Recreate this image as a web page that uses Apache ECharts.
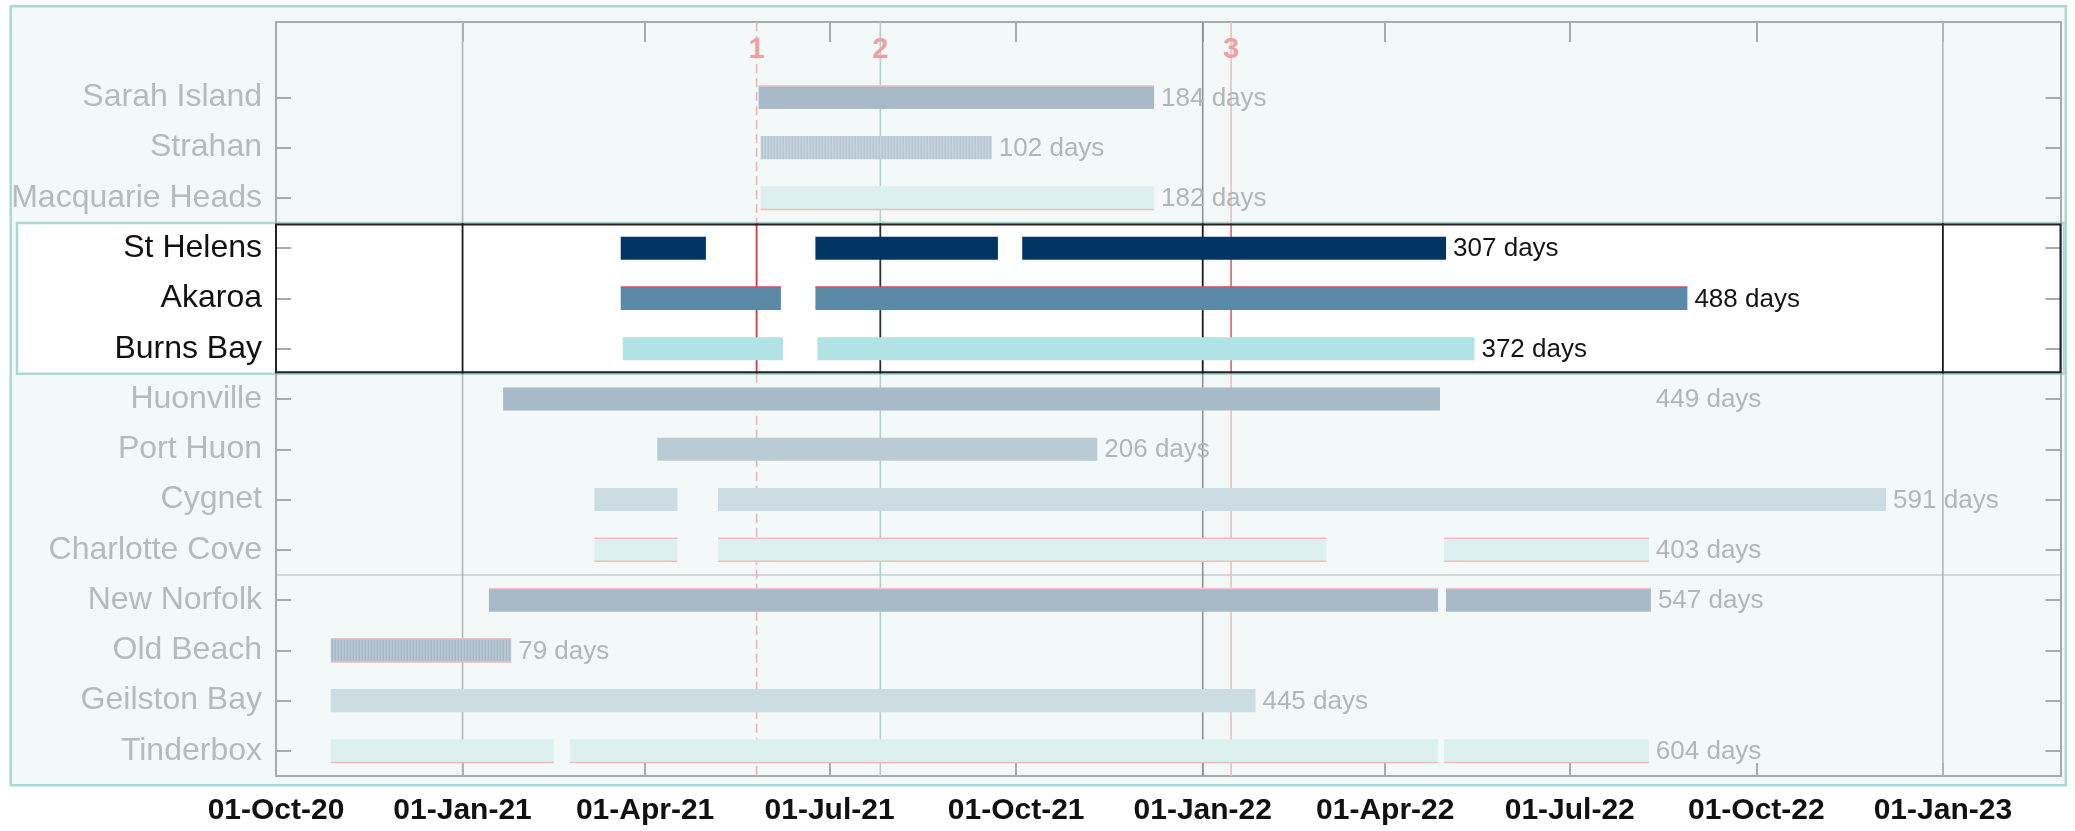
<!DOCTYPE html>
<html><head><meta charset="utf-8">
<script src="https://cdn.jsdelivr.net/npm/echarts@6/dist/echarts.min.js"></script>
<style>html,body{margin:0;padding:0;background:#fff;} #c{width:2075px;height:831px;}</style>
</head><body><div id="c"></div>
<script>
// ---------------- data ----------------
const sites = ['Sarah Island','Strahan','Macquarie Heads','St Helens','Akaroa','Burns Bay','Huonville','Port Huon','Cygnet','Charlotte Cove','New Norfolk','Old Beach','Geilston Bay','Tinderbox'];
const highlighted = ['St Helens','Akaroa','Burns Bay'];
const segments = [
  [['2021-05-27','2021-12-08']],
  [['2021-05-28','2021-09-19']],
  [['2021-05-28','2021-12-08']],
  [['2021-03-20','2021-05-01'],['2021-06-24','2021-09-22'],['2021-10-04','2022-05-01']],
  [['2021-03-20','2021-06-07'],['2021-06-24','2022-08-28']],
  [['2021-03-21','2021-06-08'],['2021-06-25','2022-05-15']],
  [['2021-01-21','2022-04-28']],
  [['2021-04-07','2021-11-10']],
  [['2021-03-07','2021-04-17'],['2021-05-07','2022-12-04']],
  [['2021-03-07','2021-04-17'],['2021-05-07','2022-03-03'],['2022-04-30','2022-08-09']],
  [['2021-01-14','2022-04-27'],['2022-05-01','2022-08-10']],
  [['2020-10-28','2021-01-25']],
  [['2020-10-28','2022-01-27']],
  [['2020-10-28','2021-02-15'],['2021-02-23','2022-04-27'],['2022-04-30','2022-08-09']]
];
const dayCounts = [184,102,182,307,488,372,449,206,591,403,547,79,445,604];
const labelAfter = [null,null,null,null,null,null,'2022-08-09',null,null,null,null,null,null,null];
const tickDates = ['2020-10-01','2021-01-01','2021-04-01','2021-07-01','2021-10-01','2022-01-01','2022-04-01','2022-07-01','2022-10-01','2023-01-01'];
const yearLines = ['2021-01-01','2022-01-01','2023-01-01'];
const markerDates = ['2021-05-26','2021-07-26','2022-01-15'];
const markerNames = ['1','2','3'];
const axisStart = '2020-10-01';
const axisEnd = '2023-02-28';
const separatorAfter = 'Charlotte Cove';

// ---------------- helpers / styles ----------------
const t = s => { const [y,m,d] = s.split('-').map(Number); return new Date(y, m-1, d).getTime(); };
const MON = ['Jan','Feb','Mar','Apr','May','Jun','Jul','Aug','Sep','Oct','Nov','Dec'];
const fmt = v => { const d = new Date(v); return String(d.getDate()).padStart(2,'0') + '-' + MON[d.getMonth()] + '-' + String(d.getFullYear()).slice(2); };
const FONT = '"Liberation Sans", Arial, Helvetica, sans-serif';
const cats = [''].concat(sites);
const catOf = name => cats.indexOf(name);

const rowStyle = {
  'Sarah Island':   {fill:'#a8b9c8', top:'#f2c8cc'},
  'Strahan':        {fill:'#c7d6de', hatch:'#adbfcb'},
  'Macquarie Heads':{fill:'#ddefef', bottom:'#f0bcbc'},
  'St Helens':      {fill:'#003463'},
  'Akaroa':         {fill:'#5b8aa6', top:'#d84c58'},
  'Burns Bay':      {fill:'#b1e2e4'},
  'Huonville':      {fill:'#a8b9c8'},
  'Port Huon':      {fill:'#bacbd5'},
  'Cygnet':         {fill:'#cbdde2'},
  'Charlotte Cove': {fill:'#ddf0f0', top:'#f0bcbc', bottom:'#f0bcbc'},
  'New Norfolk':    {fill:'#a8b9c8', top:'#f2c8cc'},
  'Old Beach':      {fill:'#b8c9d4', hatch:'#9fb3c2', top:'#f0bcbc', bottom:'#f0bcbc'},
  'Geilston Bay':   {fill:'#cbdde2'},
  'Tinderbox':      {fill:'#ddf0f0', bottom:'#f0bcbc'}
};
const lineStyles = {
  year:   [{faded:'#b2b6b6', strong:'#1a1a1a'}, {faded:'#8e9292', strong:'#1a1a1a'}, {faded:'#b2b6b6', strong:'#1a1a1a'}],
  marker: [{faded:'#f0b2b2', strong:'#e0303c', dash:[9,5]}, {faded:'#a9d3d3', strong:'#1e3434'}, {faded:'#f0bcbc', strong:'#e07272'}]
};
const GRAY = '#a6acac';

// ---------------- series data built from arrays ----------------
const barData = [];
sites.forEach((s, r) => segments[r].forEach(seg => barData.push([t(seg[0]), t(seg[1]), catOf(s), r])));
const labelData = sites.map((s, r) => {
  const end = labelAfter[r] ? t(labelAfter[r]) : Math.max(...segments[r].map(g => t(g[1])));
  return [end, catOf(s), r];
});
const lineData = yearLines.map((d, i) => [t(d), 0, i]).concat(markerDates.map((d, i) => [t(d), 1, i]));

function bandEdges(api) {
  const bh = api.size([0, 1])[1];
  const cTop = catOf(highlighted[0]), cBot = catOf(highlighted[highlighted.length-1]);
  return [api.coord([t(axisStart), cTop])[1] - bh/2, api.coord([t(axisStart), cBot])[1] + bh/2, bh];
}

const chart = echarts.init(document.getElementById('c'), null, {renderer:'canvas'});
const tickVals = tickDates.map(t);

chart.setOption({
  animation: false,
  backgroundColor: '#ffffff',
  textStyle: {fontFamily: FONT},
  graphic: [{
    type: 'rect', z: 0, left: 9.5, top: 5,
    shape: {width: 2055, height: 779},
    style: {fill: '#f3f8f8', stroke: '#a9d9d5', lineWidth: 2.5}
  }],
  grid: {left: 276, right: 14.5, top: 22, bottom: 55, outerBoundsMode: 'none'},
  xAxis: [{
    type: 'value', position: 'bottom', min: t(axisStart), max: t(axisEnd), z: 2, scale: true,
    axisLine: {show: true, lineStyle: {color: GRAY, width: 2}},
    axisTick: {show: true, inside: true, length: 13, customValues: tickVals, lineStyle: {color: GRAY, width: 2}},
    axisLabel: {customValues: tickVals, formatter: v => fmt(v), color: '#111', fontSize: 30, fontWeight: 'bold', fontFamily: FONT, margin: 20},
    splitLine: {show: false}
  }, {
    type: 'value', position: 'top', min: t(axisStart), max: t(axisEnd), z: 2, scale: true,
    axisLine: {show: true, lineStyle: {color: GRAY, width: 2}},
    axisTick: {show: true, inside: true, length: 20, customValues: tickVals, lineStyle: {color: GRAY, width: 2}},
    axisLabel: {show: false}, splitLine: {show: false}
  }],
  yAxis: [{
    type: 'category', data: cats, inverse: true, position: 'left', z: 2,
    axisLine: {show: true, lineStyle: {color: GRAY, width: 2}},
    axisTick: {show: true, inside: true, length: 15, alignWithLabel: true, interval: (i) => i > 0, lineStyle: {color: GRAY, width: 2}},
    axisLabel: {
      interval: 0, margin: 14, fontSize: 32, fontFamily: FONT,
      formatter: v => v === '' ? '' : (highlighted.includes(v) ? '{hi|' + v + '}' : '{lo|' + v + '}'),
      rich: {hi: {color: '#111', fontSize: 32, fontFamily: FONT}, lo: {color: '#b6baba', fontSize: 32, fontFamily: FONT}}
    },
    splitLine: {show: false}
  }, {
    type: 'category', data: cats, inverse: true, position: 'right', z: 2,
    axisLine: {show: true, lineStyle: {color: GRAY, width: 2}},
    axisTick: {show: true, inside: true, length: 15, alignWithLabel: true, interval: (i) => i > 0, lineStyle: {color: GRAY, width: 2}},
    axisLabel: {show: false}, splitLine: {show: false}
  }],
  series: [
    { // highlight band + separator
      type: 'custom', z: 1, clip: false, silent: true,
      data: [[t(axisStart), 0]], encode: {x: 0, y: 1},
      renderItem: (params, api) => {
        const cs = params.coordSys;
        const [top, bot, bh] = bandEdges(api);
        const sepY = api.coord([t(axisStart), catOf(separatorAfter)])[1] + bh/2;
        return {type: 'group', children: [
          {type: 'rect', shape: {x: 17, y: top, width: api.getWidth() - 17 - 11, height: bot - top}, style: {fill: '#ffffff', stroke: '#a9d9d5', lineWidth: 2.5}},
          {type: 'line', shape: {x1: cs.x, y1: sepY, x2: cs.x + cs.width, y2: sepY}, style: {stroke: '#c9cdcd', lineWidth: 1.5}}
        ]};
      }
    },
    { // vertical year grid lines and event markers
      type: 'custom', z: 3, clip: false, silent: true,
      data: lineData, encode: {x: 0, y: 1},
      renderItem: (params, api) => {
        const cs = params.coordSys;
        const kind = api.value(1) === 0 ? 'year' : 'marker';
        const idx = api.value(2);
        const st = lineStyles[kind][idx];
        const x = api.coord([api.value(0), 1])[0];
        const [top, bot] = bandEdges(api);
        const kids = [
          {type: 'line', shape: {x1: x, y1: cs.y, x2: x, y2: top}, style: {stroke: st.faded, lineWidth: 1.6, lineDash: st.dash || null}},
          {type: 'line', shape: {x1: x, y1: top, x2: x, y2: bot}, style: {stroke: st.strong, lineWidth: 1.8}},
          {type: 'line', shape: {x1: x, y1: bot, x2: x, y2: cs.y + cs.height}, style: {stroke: st.faded, lineWidth: 1.6, lineDash: st.dash || null}}
        ];
        if (kind === 'marker') {
          kids.push({type: 'text', z2: 10, style: {x: x, y: cs.y + 28, text: markerNames[idx], fill: '#efa0a0', fontSize: 29, fontWeight: 'bold', fontFamily: FONT, align: 'center', verticalAlign: 'middle'}});
        }
        return {type: 'group', children: kids};
      }
    },
    { // bars
      type: 'custom', z: 4, clip: false, silent: true,
      data: barData, encode: {x: [0, 1], y: 2},
      renderItem: (params, api) => {
        const cat = api.value(2), row = api.value(3);
        const p0 = api.coord([api.value(0), cat]);
        const p1 = api.coord([api.value(1), cat]);
        const h = api.size([0, 1])[1] * 0.46;
        const st = rowStyle[sites[row]];
        const x = p0[0], y = p0[1] - h/2, w = p1[0] - p0[0];
        const kids = [{type: 'rect', shape: {x, y, width: w, height: h}, style: {fill: st.fill}}];
        if (st.hatch) {
          for (let xx = x + 1.5; xx < x + w - 1; xx += 3) {
            kids.push({type: 'line', shape: {x1: xx, y1: y, x2: xx, y2: y + h}, style: {stroke: st.hatch, lineWidth: 1}});
          }
        }
        if (st.top) kids.push({type: 'line', shape: {x1: x, y1: y, x2: x + w, y2: y}, style: {stroke: st.top, lineWidth: 1.5}});
        if (st.bottom) kids.push({type: 'line', shape: {x1: x, y1: y + h, x2: x + w, y2: y + h}, style: {stroke: st.bottom, lineWidth: 1.5}});
        return {type: 'group', children: kids};
      }
    },
    { // "N days" labels
      type: 'custom', z: 5, clip: false, silent: true,
      data: labelData, encode: {x: 0, y: 1},
      renderItem: (params, api) => {
        const p = api.coord([api.value(0), api.value(1)]);
        const row = api.value(2);
        const hi = highlighted.includes(sites[row]);
        return {type: 'text', style: {x: p[0] + 7, y: p[1] + 1, text: dayCounts[row] + ' days', fill: hi ? '#141414' : '#b3b6b6', fontSize: 26, fontFamily: FONT, align: 'left', verticalAlign: 'middle'}};
      }
    },
    { // black outline of highlighted rows inside the axes
      type: 'custom', z: 6, clip: false, silent: true,
      data: [[t(axisStart), 0]], encode: {x: 0, y: 1},
      renderItem: (params, api) => {
        const cs = params.coordSys;
        const [top, bot] = bandEdges(api);
        return {type: 'rect', shape: {x: cs.x, y: top + 1.5, width: cs.width, height: bot - top - 3}, style: {fill: null, stroke: '#222', lineWidth: 2}};
      }
    }
  ]
});
</script>
</body></html>
